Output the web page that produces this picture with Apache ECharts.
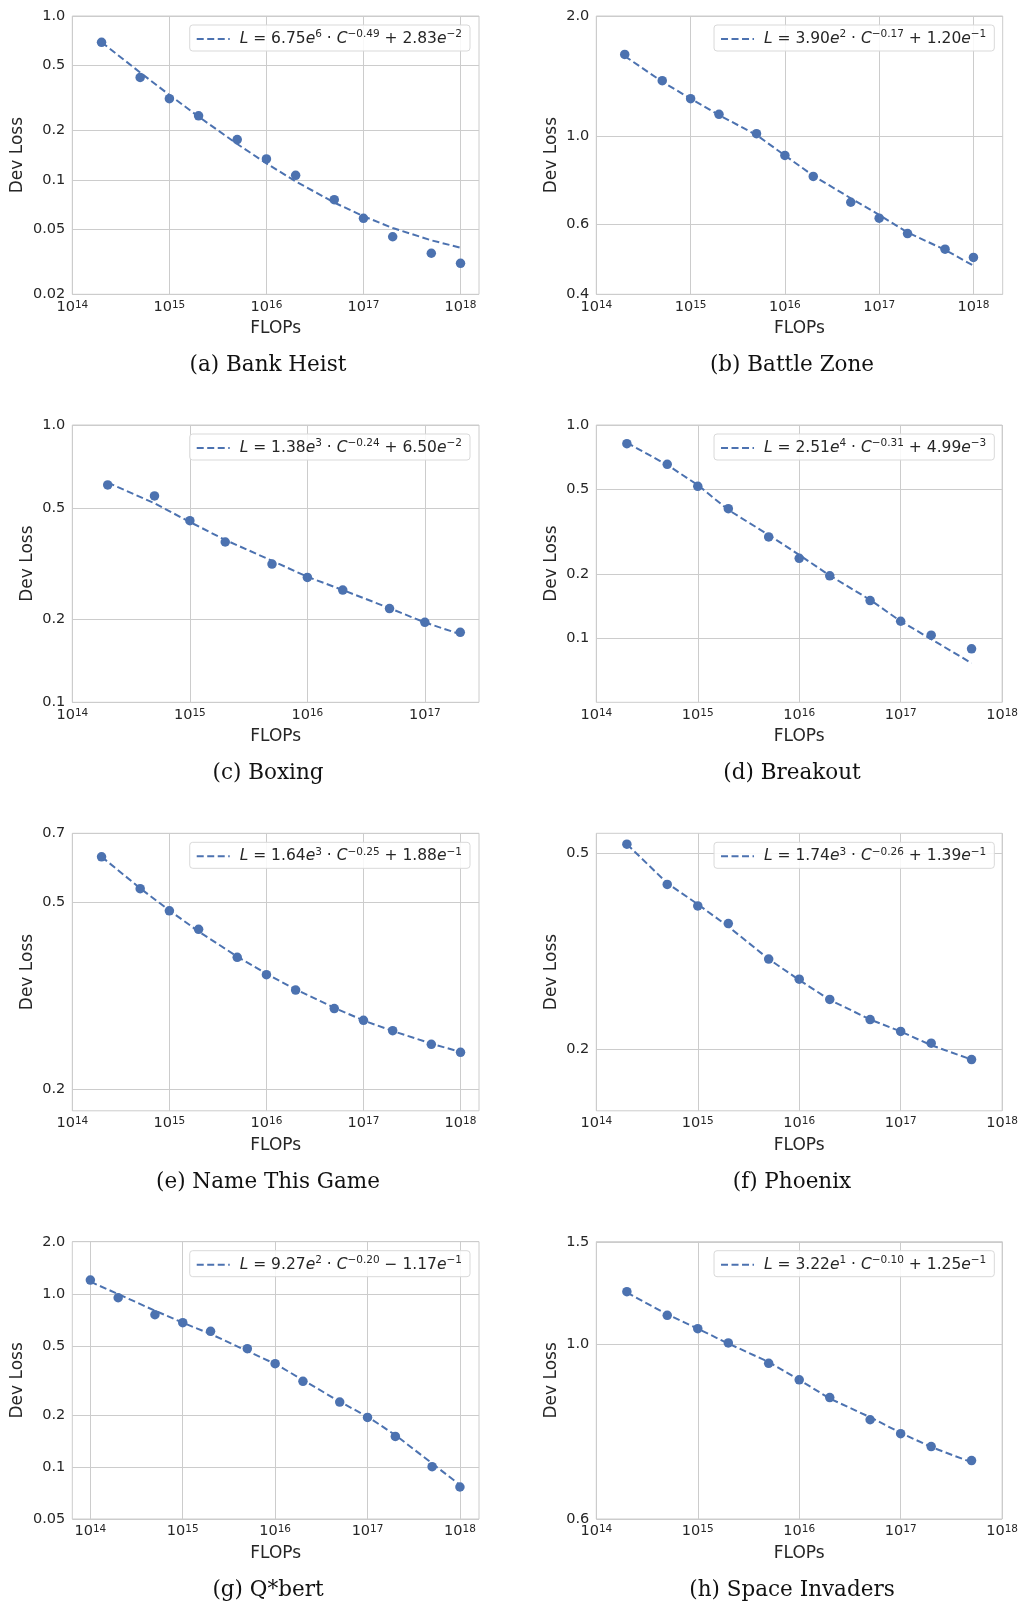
<!DOCTYPE html>
<html>
<head>
<meta charset="utf-8">
<script src="https://cdn.jsdelivr.net/npm/echarts@6/dist/echarts.min.js"></script>
<style>
html,body{margin:0;padding:0;background:#fff;}
#chart{width:1021px;height:1602px;}
</style>
</head>
<body>
<div id="chart"></div>
<script>
// ---------- data ----------
const flopsA = [2e14,5e14,1e15,2e15,5e15,1e16,2e16,5e16,1e17,2e17,5e17,1e18];
const lossA  = [0.691,0.422,0.313,0.246,0.176,0.134,0.1065,0.0756,0.0582,0.0449,0.0356,0.0309];
const fitA   = [0.692,0.452,0.330,0.243,0.1654,0.1259,0.0978,0.0726,0.0599,0.0508,0.0427,0.0385];

const flopsB = [2e14,5e14,1e15,2e15,5e15,1e16,2e16,5e16,1e17,2e17,5e17,1e18];
const lossB  = [1.602,1.376,1.240,1.133,1.013,0.893,0.791,0.681,0.621,0.568,0.519,0.495];
const fitB   = [1.587,1.368,1.240,1.128,1.005,0.893,0.794,0.697,0.633,0.572,0.517,0.472];

const flopsC = [2e14,5e14,1e15,2e15,5e15,1e16,2e16,5e16,1e17,2e17];
const lossC  = [0.608,0.555,0.452,0.3785,0.315,0.282,0.254,0.2177,0.1943,0.1788];
const fitC   = [0.620,0.522,0.447,0.385,0.324,0.2835,0.254,0.2185,0.194,0.176];

const flopsD = [2e14,5e14,1e15,2e15,5e15,1e16,2e16,5e16,1e17,2e17,5e17];
const lossD  = [0.818,0.654,0.516,0.405,0.2985,0.237,0.196,0.150,0.120,0.1032,0.0891];
const fitD   = [0.826,0.650,0.523,0.3996,0.305,0.2457,0.1967,0.1512,0.120,0.0989,0.0763];

const flopsE = [2e14,5e14,1e15,2e15,5e15,1e16,2e16,5e16,1e17,2e17,5e17,1e18];
const lossE  = [0.624,0.534,0.479,0.4375,0.3815,0.3505,0.325,0.2968,0.2803,0.2664,0.2492,0.2396];
const fitE   = [0.6245,0.535,0.480,0.433,0.383,0.352,0.326,0.298,0.280,0.266,0.250,0.240];

const flopsF = [2e14,5e14,1e15,2e15,5e15,1e16,2e16,5e16,1e17,2e17,5e17];
const lossF  = [0.522,0.4324,0.391,0.360,0.305,0.2775,0.2524,0.2298,0.2173,0.2057,0.1905];
const fitF   = [0.522,0.435,0.394,0.355,0.305,0.2765,0.252,0.2298,0.2173,0.2038,0.1905];

const flopsG = [1e14,2e14,5e14,1e15,2e15,5e15,1e16,2e16,5e16,1e17,2e17,5e17,1e18];
const lossG  = [1.201,0.949,0.757,0.681,0.607,0.482,0.395,0.312,0.237,0.193,0.150,0.1002,0.0765];
const fitG   = [1.175,0.997,0.799,0.681,0.586,0.467,0.394,0.3177,0.238,0.195,0.1527,0.1048,0.0786];

const flopsH = [2e14,5e14,1e15,2e15,5e15,1e16,2e16,5e16,1e17,2e17,5e17];
const lossH  = [1.229,1.1325,1.081,1.029,0.959,0.906,0.852,0.789,0.752,0.719,0.685];
const fitH   = [1.225,1.136,1.081,1.027,0.9635,0.906,0.849,0.796,0.754,0.718,0.681];

const captions = ['(a) Bank Heist','(b) Battle Zone','(c) Boxing','(d) Breakout',
                  '(e) Name This Game','(f) Phoenix','(g) Q*bert','(h) Space Invaders'];

// legend formula parts: L = coef e^coefExp · C^power sign const e^constExp
const fitCoefs     = ['6.75','3.90','1.38','2.51','1.64','1.74','9.27','3.22'];
const fitCoefExps  = ['6','2','3','4','3','3','2','1'];
const fitPowers    = ['\u22120.49','\u22120.17','\u22120.24','\u22120.31','\u22120.25','\u22120.26','\u22120.20','\u22120.10'];
const fitSigns     = ['+','+','+','+','+','+','\u2212','+'];
const fitConsts    = ['2.83','1.20','6.50','4.99','1.88','1.39','1.17','1.25'];
const fitConstExps = ['\u22122','\u22121','\u22122','\u22123','\u22121','\u22121','\u22121','\u22121'];

// axis ranges (log10 of FLOPs) and y ranges / ticks
const xMinExp = [14,14,14,14,14,14,13.805,14];
const xMaxExp = [18.19,18.31,17.46,18,18.19,18,18.206,18];
const xTicks  = [1e14,1e15,1e16,1e17,1e18];
const yMin = [0.02,0.4,0.1,0.05,0.18,0.15,0.05,0.56];
const yMax = [1.0,2.0,1.0,1.0,0.7,0.549,2.0,1.46];
const yTicks = [
  [0.02,0.05,0.1,0.2,0.5,1.0],
  [0.4,0.6,1.0,2.0],
  [0.1,0.2,0.5,1.0],
  [0.1,0.2,0.5,1.0],
  [0.2,0.5,0.7],
  [0.2,0.5],
  [0.05,0.1,0.2,0.5,1.0,2.0],
  [0.56,1.0255,1.46]
];

const flops = [flopsA,flopsB,flopsC,flopsD,flopsE,flopsF,flopsG,flopsH];
const losses = [lossA,lossB,lossC,lossD,lossE,lossF,lossG,lossH];
const fits = [fitA,fitB,fitC,fitD,fitE,fitF,fitG,fitH];

// ---------- layout / style ----------
const FONT = "'DejaVu Sans', sans-serif";
const TXT = '#262626';
const BLUE = '#4C72B0';
const GRIDC = '#cccccc';
const colLeft = [72.3, 596.3];
const colW = [406.7, 406.4];
const rowTop = [16, 425, 833.3, 1241.7];
const rowH = [278.3, 277.3, 277.5, 277.3];
const capX = [268, 792];
const capY = [362, 770.6, 1179.4, 1587.2];
const nameGapY = [46, 36, 36, 36, 36, 36, 46, 36];

const grids = [], xAxes = [], yAxes = [], series = [], legends = [], titles = [];
for (let i = 0; i < 8; i++) {
  const c = i % 2, r = Math.floor(i / 2);
  grids.push({left: colLeft[c], top: rowTop[r], width: colW[c], height: rowH[r],
              show: true, borderColor: GRIDC, borderWidth: 1, backgroundColor: 'transparent'});
  xAxes.push({
    type: 'log', logBase: 10, gridIndex: i,
    min: Math.pow(10, xMinExp[i] - 0.0004), max: Math.pow(10, xMaxExp[i] + 0.0004),
    name: 'FLOPs', nameLocation: 'middle', nameGap: 26,
    nameTextStyle: {fontSize: 17, color: TXT, fontFamily: FONT},
    axisLine: {show: false}, axisTick: {show: false, customValues: xTicks},
    axisLabel: {
      customValues: xTicks, margin: 5,
      formatter: v => '{b|10}{s|' + Math.round(Math.log10(v)) + '}',
      rich: {
        b: {fontSize: 14.5, fontFamily: FONT, color: TXT},
        s: {fontSize: 10.5, fontFamily: FONT, color: TXT, verticalAlign: 'top'}
      }
    },
    splitLine: {show: true, lineStyle: {color: GRIDC, width: 1}}
  });
  yAxes.push({
    type: 'log', logBase: 10, gridIndex: i,
    min: yMin[i] * 0.9995, max: yMax[i] * 1.0005,
    name: 'Dev Loss', nameLocation: 'middle', nameGap: nameGapY[i],
    nameTextStyle: {fontSize: 17, color: TXT, fontFamily: FONT},
    axisLine: {show: false}, axisTick: {show: false, customValues: yTicks[i]},
    axisLabel: {
      customValues: yTicks[i], margin: 7,
      fontSize: 14.5, fontFamily: FONT, color: TXT,
      formatter: v => (v < 0.095 ? v.toFixed(2) : v.toFixed(1))
    },
    splitLine: {show: true, lineStyle: {color: GRIDC, width: 1}}
  });
  series.push({
    name: 'fit' + i, type: 'line', xAxisIndex: i, yAxisIndex: i,
    data: flops[i].map((x, k) => [x, fits[i][k]]),
    symbol: 'none', lineStyle: {color: BLUE, width: 2, type: [7, 3.5]},
    itemStyle: {color: BLUE}, z: 2, silent: true
  });
  series.push({
    name: 'pts' + i, type: 'scatter', xAxisIndex: i, yAxisIndex: i,
    data: flops[i].map((x, k) => [x, losses[i][k]]),
    symbol: 'circle', symbolSize: 9.5, itemStyle: {color: BLUE, opacity: 1}, z: 3
  });
  const rightEdge = c === 0 ? 1021 - 470 : 1021 - 994.3;
  legends.push({
    data: ['fit' + i], right: rightEdge, top: rowTop[r] + 9,
    orient: 'horizontal', itemWidth: 33, itemHeight: 14, itemGap: 0,
    padding: [4, 8, 4, 6], borderColor: '#d9d9d9', borderWidth: 1, borderRadius: 3,
    backgroundColor: 'rgba(255,255,255,0.85)', selectedMode: false,
    itemStyle: {opacity: 0, color: 'rgba(0,0,0,0)', borderWidth: 0},
    formatter: () => '{n| }{i|L}{n| = ' + fitCoefs[i] + '}{i|e}{s|' + fitCoefExps[i] + '}{n| \u00b7 }{i|C}{s|' +
       fitPowers[i] + '}{n| ' + fitSigns[i] + ' ' + fitConsts[i] + '}{i|e}{s|' + fitConstExps[i] + '}',
    textStyle: {
      color: TXT, fontFamily: FONT, fontSize: 15.5,
      rich: {
        n: {fontSize: 15.5, fontFamily: FONT, color: TXT, lineHeight: 20},
        i: {fontSize: 15.5, fontFamily: FONT, color: TXT, fontStyle: 'italic', lineHeight: 20},
        s: {fontSize: 10.5, fontFamily: FONT, color: TXT, verticalAlign: 'top', lineHeight: 12}
      }
    }
  });
  titles.push({
    text: captions[i], left: capX[c], top: capY[r] - 8, textAlign: 'center', padding: 0,
    textStyle: {fontFamily: "'DejaVu Serif', serif", fontSize: 21.5, fontWeight: 'normal', color: '#111'}
  });
}

const chart = echarts.init(document.getElementById('chart'), null, {renderer: 'canvas'});
chart.setOption({
  animation: false,
  backgroundColor: '#ffffff',
  title: titles, grid: grids, xAxis: xAxes, yAxis: yAxes, legend: legends, series: series
});
</script>
</body>
</html>
